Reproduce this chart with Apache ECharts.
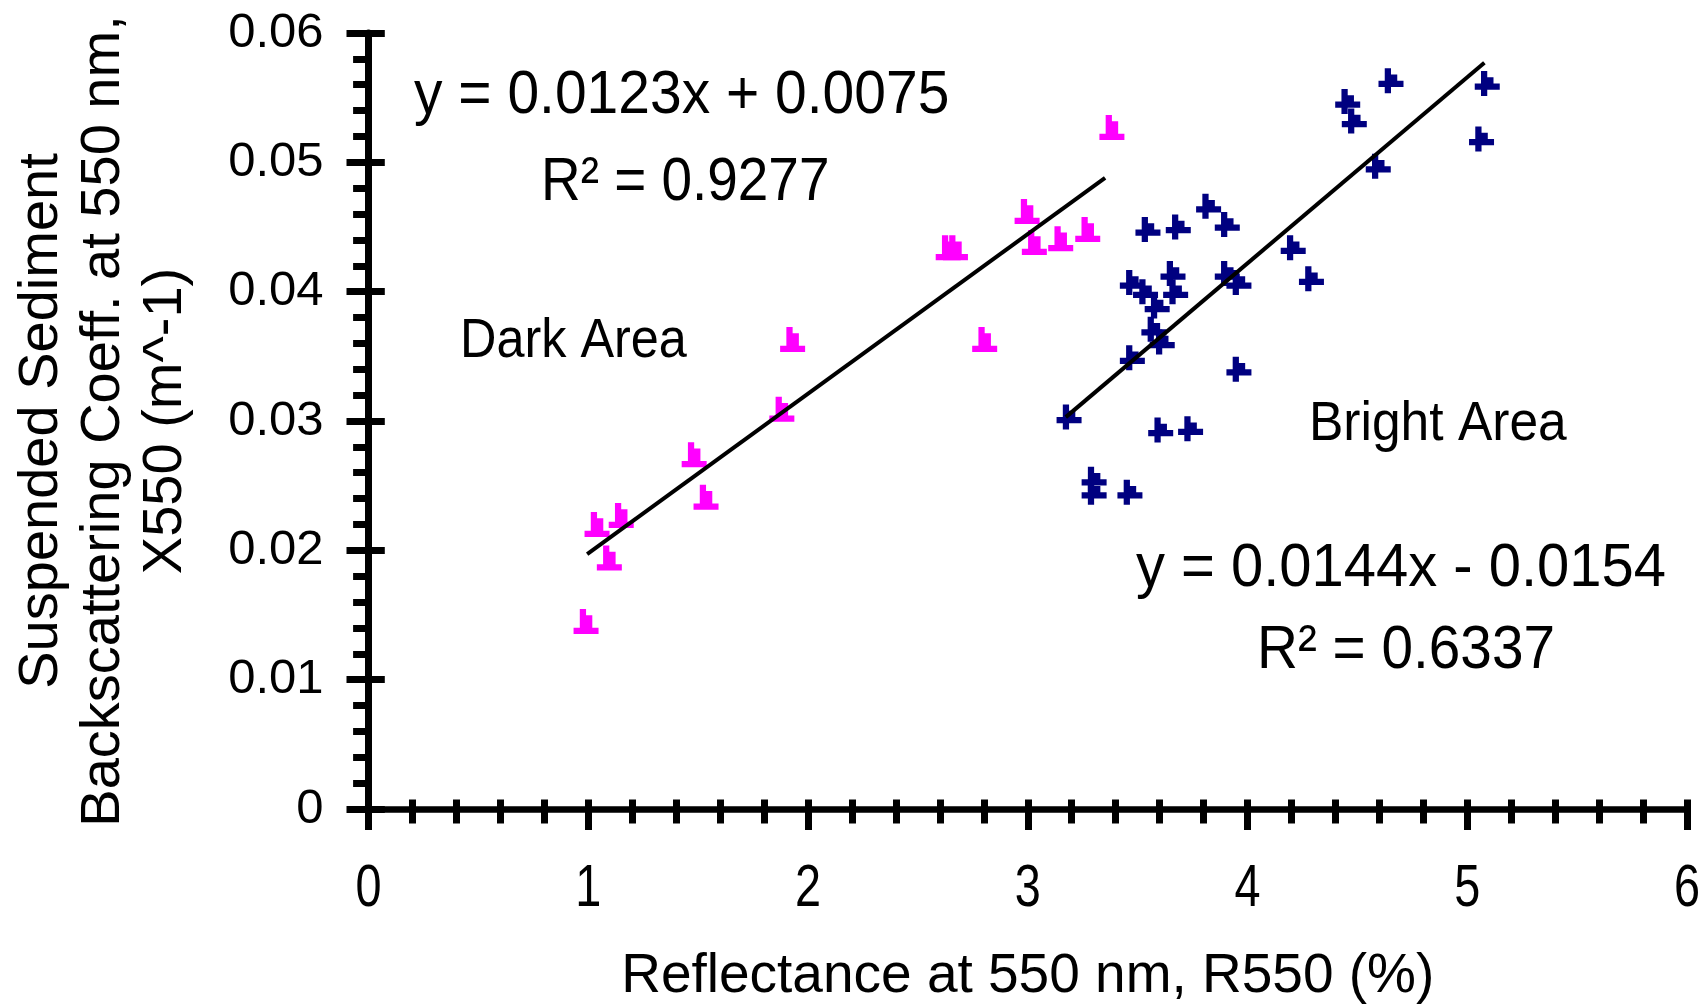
<!DOCTYPE html>
<html lang="en">
  <head>
    <meta charset="UTF-8" />
    <title>Backscattering vs Reflectance</title>
    <script src="https://cdn.jsdelivr.net/npm/echarts@6/dist/echarts.min.js"></script>
    <style>
      html, body { margin: 0; padding: 0; background: #fff; }
    </style>
  </head>
  <body>
    <div id="main" style="width: 1699px; height: 1004px"></div>
    <script type="text/javascript">
      // dark area points (R550 %, X550 m^-1)
      var darkX = [0.99, 1.04, 1.096, 1.15, 1.482, 1.536, 1.881, 1.93, 2.638, 2.671, 2.804, 2.997, 3.03, 3.15, 3.273, 3.383];
      var darkY = [0.0145, 0.0220, 0.0194, 0.0227, 0.0274, 0.0241, 0.0309, 0.0363, 0.0434, 0.0434, 0.0363, 0.0462, 0.0438, 0.0441, 0.0448, 0.0527];

      // bright area points
      var brightX = [4.653, 5.091, 4.456, 4.486, 5.065, 4.595, 3.823, 3.908, 3.547, 3.685, 4.208, 4.291, 3.476, 3.536, 3.589, 3.574, 3.612, 3.661, 3.673, 3.908, 3.961, 3.476, 3.961, 3.188, 3.605, 3.741, 3.302, 3.302, 3.465];
      var brightY = [0.0563, 0.0561, 0.0547, 0.0532, 0.0518, 0.0497, 0.0466, 0.0452, 0.0448, 0.0450, 0.0434, 0.0410, 0.0407, 0.0400, 0.0389, 0.0371, 0.0361, 0.0414, 0.0400, 0.0414, 0.0407, 0.0349, 0.0340, 0.0303, 0.0293, 0.0294, 0.0255, 0.0245, 0.0245];

      // trendline ends as drawn
      var darkLineX = [0.995, 3.352];
      var darkLineY = [0.0197, 0.0488];
      var brightLineX = [3.173, 5.078];
      var brightLineY = [0.0303, 0.0577];

      var xTicks = ["0", "1", "2", "3", "4", "5", "6"];
      var yTicks = ["0", "0.01", "0.02", "0.03", "0.04", "0.05", "0.06"];

      function pairs(xs, ys) {
        return xs.map(function (x, i) { return [x, ys[i]]; });
      }

      var font = "'Liberation Sans', Arial, sans-serif";
      var triPath = "path://M1,0L2,0L2,1L3,1L3,3L4,3L4,4L0,4L0,3L1,3Z";
      var crossPath = "path://M1,0L2,0L2,1L3,1L3,2L4,2L4,3L2,3L2,4L1,4L1,3L0,3L0,2L1,2Z";
      var black = { color: "#000", width: 7 };

      var myChart = echarts.init(document.getElementById("main"));

      var option = {
        animation: false,
        backgroundColor: "#fff",
        grid: { left: 368.5, right: 12, top: 33, bottom: 195, containLabel: false, outerBoundsMode: "none" },
        xAxis: [
          {
            type: "value", min: 0, max: 6, interval: 1, position: "bottom",
            axisLine: { onZero: false, lineStyle: { color: "#000", width: 6.5 } },
            axisTick: { length: 21, lineStyle: black },
            minorTick: { show: true, splitNumber: 5, length: 14.5, lineStyle: black },
            splitLine: { show: false },
            // tick labels are drawn below as narrow text
            axisLabel: { show: false },
            name: "Reflectance at 550 nm, R550 (%)",
            nameLocation: "middle", nameGap: 168,
            nameTextStyle: { color: "#000", fontFamily: font, fontSize: 55, verticalAlign: "middle" }
          },
          {
            type: "value", min: 0, max: 6, interval: 1, position: "bottom",
            axisLine: { show: false, onZero: false },
            axisTick: { inside: true, length: 9.5, lineStyle: black },
            minorTick: { show: true, splitNumber: 5, length: 9.5, lineStyle: black },
            splitLine: { show: false },
            axisLabel: { show: false }
          }
        ],
        yAxis: [
          {
            type: "value", min: 0, max: 0.06, interval: 0.01, position: "left",
            axisLine: { onZero: false, lineStyle: { color: "#000", width: 7 } },
            axisTick: { length: 22, lineStyle: black },
            minorTick: { show: true, splitNumber: 5, length: 15.4, lineStyle: black },
            splitLine: { show: false },
            axisLabel: {
              margin: 45, color: "#000", fontFamily: font, fontSize: 49,
              formatter: function (v) { return yTicks[Math.round(v * 100)]; }
            },
            name: "Suspended Sediment\nBackscattering Coeff. at 550 nm,\nX550 (m^-1)",
            nameLocation: "middle", nameGap: 265, nameRotate: 90,
            nameTextStyle: { color: "#000", fontFamily: font, fontSize: 56, lineHeight: 62, align: "center", verticalAlign: "middle" }
          },
          {
            type: "value", min: 0, max: 0.06, interval: 0.01, position: "left",
            axisLine: { show: false, onZero: false },
            axisTick: { inside: true, length: 16.3, lineStyle: black },
            splitLine: { show: false },
            axisLabel: { show: false }
          }
        ],
        series: [
          {
            name: "Dark Area", type: "scatter", data: pairs(darkX, darkY),
            symbol: triPath, symbolSize: 25,
            itemStyle: { color: "#ff00ff", opacity: 1 }
          },
          {
            name: "Bright Area", type: "scatter", data: pairs(brightX, brightY),
            symbol: crossPath, symbolSize: 25,
            itemStyle: { color: "#000080", opacity: 1 }
          },
          {
            type: "line", data: pairs(darkLineX, darkLineY), symbol: "none",
            lineStyle: { color: "#000", width: 4 }, z: 5
          },
          {
            type: "line", data: pairs(brightLineX, brightLineY), symbol: "none",
            lineStyle: { color: "#000", width: 4 }, z: 5
          }
        ]
      };
      myChart.setOption(option);

      function note(text, x, y, size, sx) {
        return {
          type: "text", x: x, y: y, scaleX: sx,
          style: { text: text, fontFamily: font, fontSize: size, fill: "#000", align: "left", verticalAlign: "middle" }
        };
      }

      var texts = [
        note("y = 0.0123x + 0.0075", 414, 96, 61, 0.934),
        note("R\u00b2 = 0.9277", 541, 183, 61, 0.9),
        note("Dark Area", 460, 342, 56, 0.9),
        note("Bright Area", 1309, 425, 56, 0.92),
        note("y = 0.0144x - 0.0154", 1136, 569, 61, 0.95),
        note("R\u00b2 = 0.6337", 1257, 651, 61, 0.93)
      ];

      // narrow x tick labels placed through the axis scale
      xTicks.forEach(function (t, i) {
        var p = myChart.convertToPixel({ seriesIndex: 0 }, [i, 0]);
        texts.push({
          type: "text", x: p[0], y: p[1] + 80, scaleX: 0.78,
          style: { text: t, fontFamily: font, fontSize: 60, fill: "#000", align: "center", verticalAlign: "middle" }
        });
      });

      myChart.setOption({ graphic: texts });
    </script>
  </body>
</html>
